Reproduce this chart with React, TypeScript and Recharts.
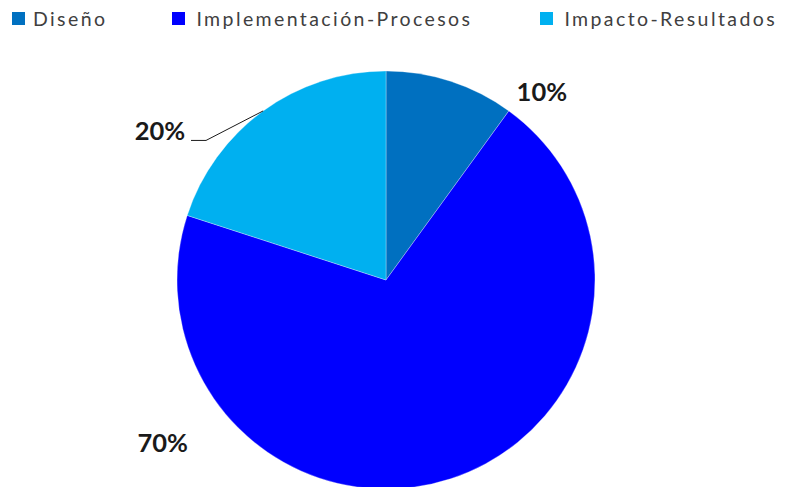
import React from "react";
import { Pie, PieChart } from "recharts";

const categories = ["Diseño", "Implementación-Procesos", "Impacto-Resultados"];
const shares = [10, 70, 20];
const colors = ["#0070C0", "#0000FF", "#00B0F0"];

// where the labels sit (Excel "best fit"), as angle/distance from the pie centre
const labelAngle = [50.5, 216, 146.5];
const labelDistance = [245, 276, 271];

const data = categories.map((name, i) => ({ name, value: shares[i], fill: colors[i] }));

const RAD = Math.PI / 180;

function renderLabel(props: any) {
  const { cx, cy, outerRadius, midAngle, index, value } = props;
  const a = labelAngle[index] * RAD;
  const x = cx + labelDistance[index] * Math.cos(a);
  const y = cy - labelDistance[index] * Math.sin(a);
  let leader = null;
  if (index === 2) {
    const ex = cx + outerRadius * Math.cos(-midAngle * RAD);
    const ey = cy + outerRadius * Math.sin(-midAngle * RAD);
    const by = y + 10;
    leader = (
      <polyline
        points={`${ex},${ey} ${x + 46},${by} ${x + 31},${by}`}
        fill="none"
        stroke="#1a1a1a"
        strokeWidth={1}
      />
    );
  }
  return (
    <g>
      {leader}
      <text
        x={x}
        y={y}
        textAnchor="middle"
        dominantBaseline="central"
        fontFamily="Lato"
        fontWeight={700}
        fontSize={25.5}
        fill="#1a1a1a"
      >
        {`${value}%`}
      </text>
    </g>
  );
}

function ChartLegend() {
  return (
    <div
      style={{
        position: "absolute",
        top: 7,
        left: 12,
        display: "flex",
        whiteSpace: "nowrap",
        fontFamily: "Lato",
        fontSize: 19.5,
        color: "#404040",
        letterSpacing: 2.4,
      }}
    >
      {data.map((d, i) => (
        <div key={d.name} style={{ display: "flex", alignItems: "center", marginRight: i === 0 ? 65 : 68 }}>
          <span
            style={{
              width: 13,
              height: 13,
              background: d.fill,
              marginRight: i === 0 ? 8 : 11,
              display: "inline-block",
            }}
          />
          <span>{d.name}</span>
        </div>
      ))}
    </div>
  );
}

export default function App() {
  return (
    <div style={{ position: "absolute", left: 0, top: 0, width: 785, height: 487, background: "#fff" }}>
      <PieChart width={785} height={487} margin={{ top: 0, right: 0, bottom: 0, left: 0 }}>
        <Pie
          data={data}
          dataKey="value"
          nameKey="name"
          cx={386}
          cy={280}
          outerRadius={209}
          startAngle={90}
          endAngle={-270}
          stroke="#ffffff"
          strokeOpacity={0.5}
          strokeWidth={0.6}
          label={renderLabel}
          labelLine={false}
          isAnimationActive={false}
        />
      </PieChart>
      <ChartLegend />
    </div>
  );
}
